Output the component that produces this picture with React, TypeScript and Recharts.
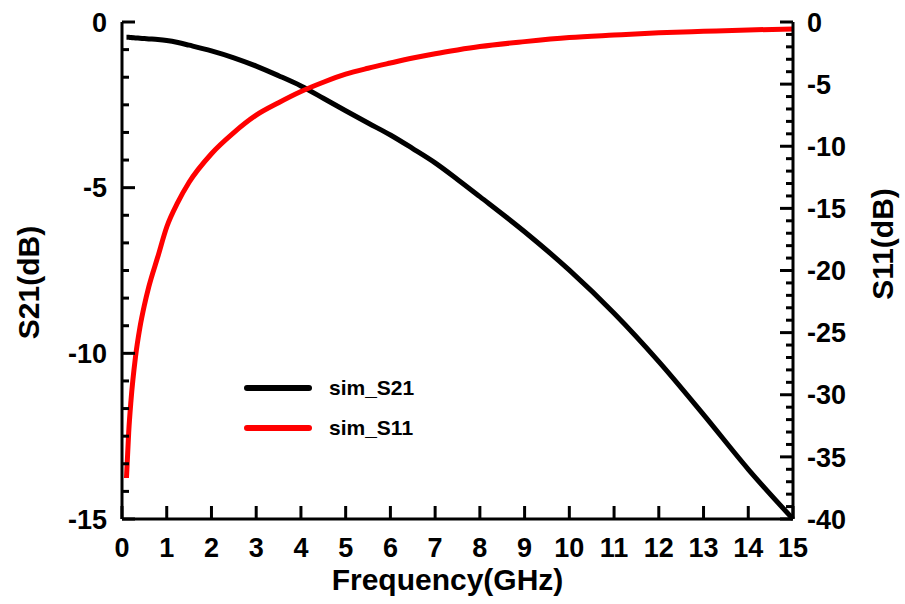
import React from 'react';
import { LineChart, Line, XAxis, YAxis, Legend, Label } from 'recharts';

// Values
const freqGHz = [0.1, 0.15, 0.2, 0.3, 0.4, 0.5, 0.6, 0.8, 1, 1.25, 1.5, 2, 2.5, 3, 3.5, 4, 4.5, 5, 5.5, 6, 6.5, 7, 7.5, 8, 9, 10, 11, 12, 13, 14, 15];
const s21dB = [-0.46, -0.46, -0.47, -0.48, -0.49, -0.5, -0.51, -0.53, -0.56, -0.62, -0.7, -0.87, -1.08, -1.33, -1.62, -1.93, -2.3, -2.68, -3.05, -3.41, -3.82, -4.25, -4.75, -5.27, -6.33, -7.49, -8.79, -10.25, -11.85, -13.5, -15.0];
const s11dB = [-36.7, -33.0, -30.5, -27.0, -24.6, -22.8, -21.3, -18.9, -16.5, -14.5, -12.9, -10.6, -8.9, -7.5, -6.5, -5.6, -4.85, -4.2, -3.72, -3.3, -2.9, -2.55, -2.25, -1.98, -1.58, -1.25, -1.05, -0.87, -0.75, -0.64, -0.56];

// Tick labels
const freqTicks = [0, 1, 2, 3, 4, 5, 6, 7, 8, 9, 10, 11, 12, 13, 14, 15];
const s21Labels = [0, -5, -10, -15];
const s11Labels = [0, -5, -10, -15, -20, -25, -30, -35, -40];
const s21MinorPerMajor = 6;
const s11MinorPerMajor = 5;
const legendOrder = ['sim_S21', 'sim_S11'];

const data = freqGHz.map((f, i) => ({ f, s21: s21dB[i], s11: s11dB[i] }));

// major labels plus minor ticks in between
const withMinor = (labels: number[], n: number) => {
  const out: number[] = [];
  for (let i = 0; i < labels.length - 1; i++) {
    const a = labels[i];
    const b = labels[i + 1];
    for (let k = 0; k < n; k++) out.push(a + ((b - a) * k) / n);
  }
  out.push(labels[labels.length - 1]);
  return out;
};

const FONT = '"Liberation Sans", Arial, sans-serif';
const MAJOR = 13;
const MINOR = 7;
const TICK_FS = 27;
const TITLE_FS = 30;

const isMajor = (v: number, labels: number[]) => labels.some((l) => Math.abs(l - v) < 1e-6);

const LeftTick = (props: any) => {
  const { x, y, payload } = props;
  const major = isMajor(payload.value, s21Labels);
  return (
    <g>
      <line x1={x} x2={x + (major ? MAJOR : MINOR)} y1={y} y2={y} stroke="#000" strokeWidth={3} />
      {major && (
        <text x={x - 15} y={y} dy="0.36em" textAnchor="end" fontFamily={FONT} fontWeight="bold" fontSize={TICK_FS} fill="#000">
          {payload.value}
        </text>
      )}
    </g>
  );
};

const RightTick = (props: any) => {
  const { x, y, payload } = props;
  const major = isMajor(payload.value, s11Labels);
  return (
    <g>
      <line x1={x} x2={x - (major ? MAJOR : MINOR)} y1={y} y2={y} stroke="#000" strokeWidth={3} />
      {major && (
        <text x={x + 14} y={y} dy="0.36em" textAnchor="start" fontFamily={FONT} fontWeight="bold" fontSize={TICK_FS} fill="#000">
          {payload.value}
        </text>
      )}
    </g>
  );
};

const BottomTick = (props: any) => {
  const { x, y, payload } = props;
  return (
    <g>
      <line x1={x} x2={x} y1={y} y2={y - MAJOR} stroke="#000" strokeWidth={3} />
      <text x={x} y={y + 38} textAnchor="middle" fontFamily={FONT} fontWeight="bold" fontSize={TICK_FS} fill="#000">
        {payload.value}
      </text>
    </g>
  );
};

const TopTick = (props: any) => {
  const { x, y } = props;
  return <line x1={x} x2={x} y1={y} y2={y + MAJOR} stroke="#000" strokeWidth={3} />;
};

const YTitle = ({ value, cx, cy }: any) => (
  <text
    x={cx}
    y={cy}
    transform={`rotate(-90, ${cx}, ${cy})`}
    textAnchor="middle"
    dominantBaseline="central"
    fontFamily={FONT}
    fontWeight="bold"
    fontSize={TITLE_FS}
    fill="#000"
  >
    {value}
  </text>
);

const LegendBox = ({ payload }: any) => {
  const items = [...(payload || [])].sort((a: any, b: any) => legendOrder.indexOf(a.value) - legendOrder.indexOf(b.value));
  return (
    <div style={{ fontFamily: FONT, fontWeight: 'bold', fontSize: 21 }}>
      {items.map((p: any) => (
        <div key={p.value} style={{ display: 'flex', alignItems: 'center', height: 40 }}>
          <svg width={68} height={10} style={{ marginRight: 17 }}>
            <line x1={3} x2={65} y1={5} y2={5} stroke={p.color} strokeWidth={6} strokeLinecap="round" />
          </svg>
          <span>{p.value}</span>
        </div>
      ))}
    </div>
  );
};

export default function App() {
  return (
    <div style={{ width: 905, height: 604, background: '#fff' }}>
      <style>{`body{margin:0}`}</style>
      <LineChart width={905} height={604} data={data} margin={{ top: 22, right: 0, bottom: 0, left: 0 }}>
        <XAxis
          xAxisId="bottom"
          dataKey="f"
          type="number"
          domain={[0, 15]}
          ticks={freqTicks}
          interval={0}
          height={85}
          tickSize={0}
          tickMargin={0}
          tickLine={false}
          axisLine={{ stroke: '#000', strokeWidth: 3 }}
          tick={<BottomTick />}
        >
          <Label
            content={({ viewBox }: any) => (
              <text
                x={viewBox.x + viewBox.width / 2 - 10}
                y={viewBox.y + 71}
                textAnchor="middle"
                fontFamily={FONT}
                fontWeight="bold"
                fontSize={TITLE_FS}
                fill="#000"
              >
                Frequency(GHz)
              </text>
            )}
          />
        </XAxis>
        <XAxis
          xAxisId="top"
          orientation="top"
          dataKey="f"
          type="number"
          domain={[0, 15]}
          ticks={freqTicks}
          interval={0}
          height={0}
          tickSize={0}
          tickMargin={0}
          tickLine={false}
          axisLine={{ stroke: '#000', strokeWidth: 3 }}
          tick={<TopTick />}
        />
        <YAxis
          yAxisId="left"
          domain={[-15, 0]}
          ticks={withMinor(s21Labels, s21MinorPerMajor)}
          interval={0}
          width={122}
          tickSize={0}
          tickMargin={0}
          tickLine={false}
          axisLine={{ stroke: '#000', strokeWidth: 3 }}
          tick={<LeftTick />}
        >
          <Label content={({ viewBox }: any) => <YTitle value="S21(dB)" cx={viewBox.x + 28} cy={viewBox.y + viewBox.height / 2 + 12} />} />
        </YAxis>
        <YAxis
          yAxisId="right"
          orientation="right"
          domain={[-40, 0]}
          ticks={withMinor(s11Labels, s11MinorPerMajor)}
          interval={0}
          width={112}
          tickSize={0}
          tickMargin={0}
          tickLine={false}
          axisLine={{ stroke: '#000', strokeWidth: 3 }}
          tick={<RightTick />}
        >
          <Label content={({ viewBox }: any) => <YTitle value="S11(dB)" cx={viewBox.x + 89} cy={viewBox.y + 222} />} />
        </YAxis>
        <Legend
          layout="vertical"
          align="center"
          verticalAlign="middle"
          content={<LegendBox />}
          wrapperStyle={{ position: 'absolute', left: 244, top: 368, width: 220 }}
        />
        <Line
          xAxisId="bottom"
          yAxisId="left"
          name="sim_S21"
          dataKey="s21"
          type="monotone"
          stroke="#000"
          strokeWidth={5}
          dot={false}
          isAnimationActive={false}
        />
        <Line
          xAxisId="top"
          yAxisId="right"
          name="sim_S11"
          dataKey="s11"
          type="monotone"
          stroke="#ff0000"
          strokeWidth={5}
          dot={false}
          isAnimationActive={false}
        />
      </LineChart>
    </div>
  );
}
